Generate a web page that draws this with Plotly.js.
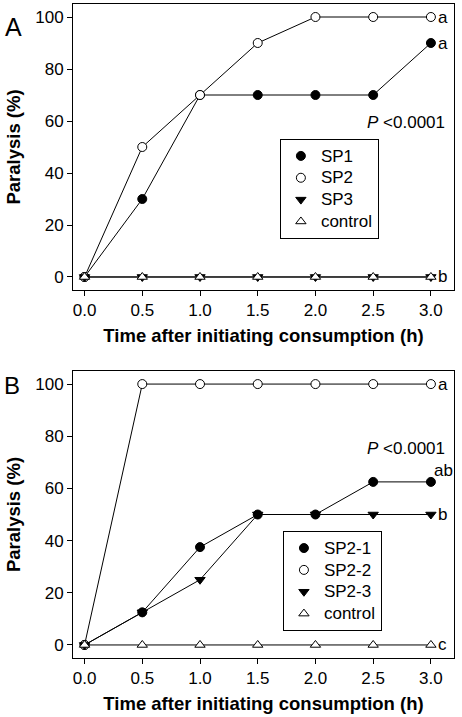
<!DOCTYPE html>
<html>
<head>
<meta charset="utf-8">
<script src="https://cdn.plot.ly/plotly-3.0.1.min.js"></script>
<style>html,body{margin:0;padding:0;background:#fff}#chart{width:462px;height:717px}</style>
</head>
<body>
<div id="chart"></div>
<script>
const time = [0, 0.5, 1.0, 1.5, 2.0, 2.5, 3.0];
// Panel A
const namesA = ["SP1", "SP2", "SP3", "control"];
const sp1 = [0, 30, 70, 70, 70, 70, 90];
const sp2 = [0, 50, 70, 90, 100, 100, 100];
const sp3 = [0, 0, 0, 0, 0, 0, 0];
const controlA = [0, 0, 0, 0, 0, 0, 0];
const lettersA = ["a", "a", "b"];
const letterYA = [100, 90, 0];
// Panel B
const namesB = ["SP2-1", "SP2-2", "SP2-3", "control"];
const sp21 = [0, 12.5, 37.5, 50, 50, 62.5, 62.5];
const sp22 = [0, 100, 100, 100, 100, 100, 100];
const sp23 = [0, 12.5, 25, 50, 50, 50, 50];
const controlB = [0, 0, 0, 0, 0, 0, 0];
const lettersB = ["a", "ab", "b", "c"];
const letterYB = [100, 67, 50, 0];
const xTicks = [0, 0.5, 1.0, 1.5, 2.0, 2.5, 3.0];
const xTickText = ["0.0", "0.5", "1.0", "1.5", "2.0", "2.5", "3.0"];
const yTicks = [0, 20, 40, 60, 80, 100];

const styles = [
  {symbol: "circle", color: "#000", line: "#000", size: 9},
  {symbol: "circle", color: "#fff", line: "#000", size: 9},
  {symbol: "triangle-down", color: "#000", line: "#000", size: 9},
  {symbol: "triangle-up", color: "#fff", line: "#000", size: 9}
];

function build(seriesList, names, xa, ya, legendId) {
  const lines = [], marks = [];
  seriesList.forEach((ys, i) => {
    lines.push({x: time, y: ys, xaxis: xa, yaxis: ya, mode: "lines",
      line: {color: "#000", width: 1}, showlegend: false, hoverinfo: "skip"});
    const s = styles[i];
    marks.push({x: time, y: ys, xaxis: xa, yaxis: ya, mode: "markers",
      name: '<span style="font-size:17px">' + names[i] + '</span>',
      legend: legendId,
      marker: {symbol: s.symbol, color: s.color, size: s.size, line: {color: s.line, width: 1}}});
  });
  return lines.concat(marks);
}

const data = []
  .concat(build([sp1, sp2, sp3, controlA], namesA, "x", "y", "legend"))
  .concat(build([sp21, sp22, sp23, controlB], namesB, "x2", "y2", "legend2"));

const fontFam = "Liberation Sans, Arial, sans-serif";
function xaxis(anchor) {
  return {anchor: anchor, domain: [0, 1], range: [-0.1, 3.2], tickvals: xTicks, ticktext: xTickText,
    ticks: "outside", ticklen: 5, tickwidth: 1, tickcolor: "#000",
    showline: true, linecolor: "#000", linewidth: 1, mirror: true, showgrid: false, zeroline: false,
    tickfont: {family: fontFam, size: 17, color: "#000"},
    title: {text: "Time after initiating consumption (h)", font: {family: fontFam, size: 18.5, color: "#000", weight: "bold"}, standoff: 9}};
}
function yaxis(anchor, domain) {
  return {anchor: anchor, domain: domain, range: [-5, 105], tickvals: yTicks,
    ticks: "outside", ticklen: 5, tickwidth: 1, tickcolor: "#000",
    showline: true, linecolor: "#000", linewidth: 1, mirror: true, showgrid: false, zeroline: false,
    tickfont: {family: fontFam, size: 17, color: "#000"},
    title: {text: "Paralysis (%)", font: {family: fontFam, size: 18.5, color: "#000", weight: "bold"}, standoff: 9}};
}

const annotations = [];
lettersA.forEach((t, i) => annotations.push({xref: "x", yref: "y", x: 3.0, y: letterYA[i], text: t,
  showarrow: false, xanchor: "left", xshift: 5, font: {family: fontFam, size: 17, color: "#000"}}));
lettersB.forEach((t, i) => annotations.push({xref: "x2", yref: "y2", x: 3.0, y: letterYB[i], text: t,
  showarrow: false, xanchor: "left", xshift: t === "ab" ? 1 : 5, font: {family: fontFam, size: 17, color: "#000"}}));
annotations.push({xref: "x", yref: "y", x: 3.14, y: 59.5, text: "<i>P</i> <0.0001", showarrow: false,
  xanchor: "right", font: {family: fontFam, size: 17, color: "#000"}});
annotations.push({xref: "x2", yref: "y2", x: 3.14, y: 75.3, text: "<i>P</i> <0.0001", showarrow: false,
  xanchor: "right", font: {family: fontFam, size: 17, color: "#000"}});
annotations.push({xref: "paper", yref: "paper", x: -0.156, y: 0.965, text: "A", showarrow: false,
  xanchor: "center", yanchor: "middle", font: {family: fontFam, size: 25, color: "#000"}});
annotations.push({xref: "paper", yref: "paper", x: -0.16, y: 0.416, text: "B", showarrow: false,
  xanchor: "center", yanchor: "middle", font: {family: fontFam, size: 24, color: "#000"}});

const legendBase = {bgcolor: "#fff", bordercolor: "#000", borderwidth: 1,
  font: {family: fontFam, size: 14.5, color: "#000"}, xanchor: "left", yanchor: "top"};

const layout = {
  width: 462, height: 717,
  margin: {l: 73, r: 8, t: 4, b: 59},
  paper_bgcolor: "#fff", plot_bgcolor: "#fff",
  xaxis: xaxis("y"),
  yaxis: yaxis("x", [0.5627, 1]),
  xaxis2: xaxis("y2"),
  yaxis2: yaxis("x2", [0, 0.4388]),
  legend: Object.assign({x: 0.543, y: 0.7936}, legendBase),
  legend2: Object.assign({x: 0.551, y: 0.194}, legendBase),
  annotations: annotations,
  showlegend: true
};

Plotly.newPlot("chart", data, layout, {displayModeBar: false, staticPlot: true});
</script>
</body>
</html>
